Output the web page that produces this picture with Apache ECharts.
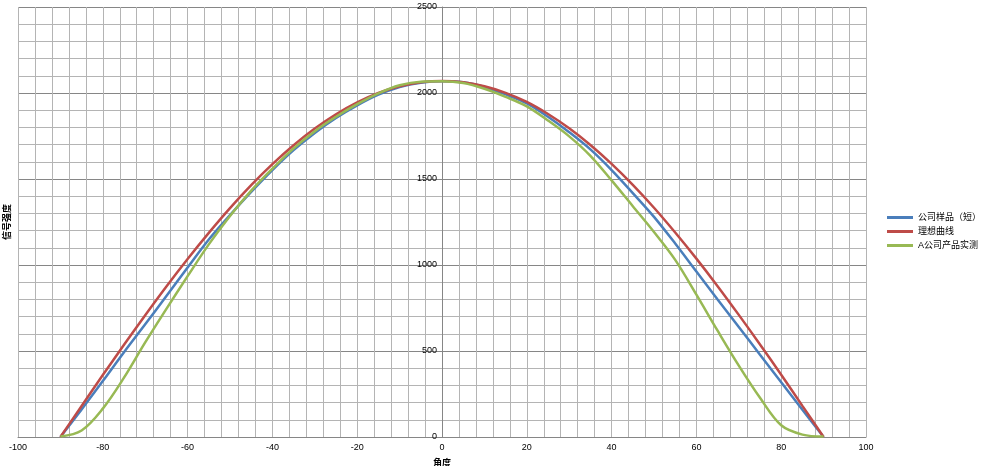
<!DOCTYPE html>
<html>
<head>
<meta charset="utf-8">
<script src="https://cdn.jsdelivr.net/npm/echarts@6/dist/echarts.min.js"></script>
<style>
  html, body { margin: 0; padding: 0; background: #fff; }
  #chart { width: 990px; height: 466px; }
</style>
</head>
<body>
<div id="chart"></div>
<script>
// angle (deg) at which each value was read
const angles = [
  -90, -85, -80, -75, -70, -65, -60, -55, -50, -45, -40, -35, -30, -25, -20, -15, -10, -5, 0,
  5, 10, 15, 20, 25, 30, 35, 40, 45, 50, 55, 60, 65, 70, 75, 80, 85, 90,
]
// 公司样品（短）
const sampleValues = [
  0, 160, 325, 493, 655, 820, 985, 1148, 1290, 1425, 1552, 1668, 1768, 1855, 1928, 1990, 2035, 2060, 2068,
  2062, 2035, 1992, 1940, 1862, 1772, 1672, 1552, 1418, 1280, 1125, 962, 800, 640, 478, 318, 158, 0,
]
// 理想曲线
const idealValues = [
  0, 180, 360, 536, 708, 875, 1035, 1187, 1331, 1464, 1586, 1696, 1793, 1876, 1945, 2000, 2039, 2062, 2070,
  2062, 2039, 2001, 1948, 1878, 1795, 1698, 1588, 1466, 1333, 1189, 1037, 877, 710, 538, 362, 181, 0,
]
// A公司产品实测
const productValues = [
  3, 38, 165, 345, 550, 745, 935, 1120, 1285, 1432, 1560, 1678, 1778, 1862, 1935, 1998, 2045, 2066, 2068,
  2058, 2025, 1978, 1922, 1840, 1748, 1635, 1492, 1342, 1192, 1030, 828, 618, 415, 228, 68, 14, 3,
]
const seriesNames = ['公司样品（短）', '理想曲线', 'A公司产品实测']
const seriesColors = ['#4a7ebb', '#be4b48', '#98b954']

const font = '"Liberation Sans", Arial, "Noto Sans CJK SC", sans-serif'

function pairs(values) {
  return angles.map((a, i) => [a, values[i]])
}

const chart = echarts.init(document.getElementById('chart'))

const seriesData = [sampleValues, idealValues, productValues]
const series = seriesData.map((values, i) => ({
  name: seriesNames[i],
  type: 'line',
  smooth: 0.35,
  symbol: 'none',
  data: pairs(values),
  lineStyle: { width: 2.5, color: seriesColors[i] },
  itemStyle: { color: seriesColors[i] },
}))

chart.setOption({
  animation: false,
  textStyle: { fontFamily: font },
  grid: { left: 18, right: 124, top: 7, bottom: 29, containLabel: false, outerBoundsMode: 'none' },
  legend: {
    orient: 'vertical',
    left: 882,
    top: 208,
    icon: 'rect',
    itemWidth: 26,
    itemHeight: 3,
    itemGap: 5,
    textStyle: { fontSize: 9, color: '#000', fontFamily: font },
    data: seriesNames,
  },
  xAxis: {
    type: 'value',
    min: -100,
    max: 100,
    interval: 20,
    name: '角度',
    nameLocation: 'middle',
    nameGap: 22,
    nameTextStyle: { fontSize: 9, fontWeight: 'bold', color: '#000' },
    axisLine: { onZero: true, lineStyle: { color: '#868686', width: 1 } },
    axisTick: { show: false },
    axisLabel: { fontSize: 9, color: '#000', margin: 6 },
    splitLine: { show: true, lineStyle: { color: '#b4b4b4', width: 1 } },
    minorTick: { show: false, splitNumber: 5 },
    minorSplitLine: { show: true, lineStyle: { color: '#b4b4b4', width: 1 } },
  },
  yAxis: {
    type: 'value',
    min: 0,
    max: 2500,
    interval: 500,
    // sits on x = 0, in the middle of the plot
    offset: -424,
    axisLine: { show: true, onZero: false, lineStyle: { color: '#868686', width: 1 } },
    axisTick: { show: false },
    axisLabel: { fontSize: 9, color: '#000', margin: 5, formatter: (v) => String(v) },
    splitLine: { show: true, lineStyle: { color: '#868686', width: 1 } },
    minorTick: { show: false, splitNumber: 5 },
    minorSplitLine: { show: true, lineStyle: { color: '#b4b4b4', width: 1 } },
  },
  graphic: [
    {
      type: 'text',
      left: 3,
      top: 204,
      rotation: Math.PI / 2,
      style: { text: '信号强度', fill: '#000', font: 'bold 9px ' + font },
    },
  ],
  series,
})
</script>
</body>
</html>
